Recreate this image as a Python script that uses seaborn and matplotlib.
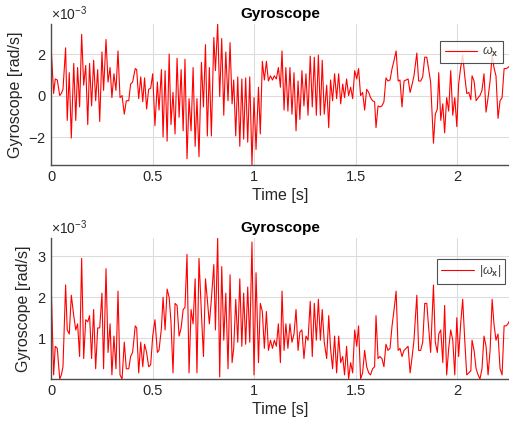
import numpy as np
import pandas as pd
import seaborn as sns
import matplotlib
matplotlib.use("Agg")
import matplotlib.pyplot as plt
from matplotlib.ticker import ScalarFormatter

# ---- data ----
time_s = [
    0.000, 0.013, 0.021, 0.031, 0.043, 0.051, 0.059, 0.072, 0.080, 0.090,
    0.100, 0.112, 0.122, 0.131, 0.141, 0.151, 0.161, 0.171, 0.181, 0.190,
    0.200, 0.210, 0.220, 0.230, 0.240, 0.251, 0.259, 0.271, 0.281, 0.291,
    0.300, 0.310, 0.320, 0.330, 0.340, 0.350, 0.361, 0.371, 0.383, 0.392,
    0.402, 0.415, 0.422, 0.432, 0.442, 0.452, 0.461, 0.471, 0.481, 0.491,
    0.501, 0.512, 0.524, 0.532, 0.544, 0.552, 0.562, 0.572, 0.582, 0.591,
    0.601, 0.611, 0.621, 0.631, 0.641, 0.651, 0.660, 0.670, 0.680, 0.690,
    0.700, 0.710, 0.719, 0.729, 0.741, 0.751, 0.761, 0.770, 0.780, 0.790,
    0.802, 0.810, 0.821, 0.831, 0.841, 0.851, 0.861, 0.872, 0.882, 0.892,
    0.900, 0.910, 0.920, 0.930, 0.940, 0.949, 0.959, 0.969, 0.979, 0.990,
    1.000, 1.010, 1.022, 1.031, 1.041, 1.051, 1.061, 1.071, 1.081, 1.091,
    1.100, 1.110, 1.120, 1.130, 1.138, 1.148, 1.157, 1.167, 1.177, 1.187,
    1.197, 1.207, 1.217, 1.226, 1.236, 1.246, 1.256, 1.266, 1.277, 1.287,
    1.297, 1.307, 1.317, 1.327, 1.336, 1.346, 1.358, 1.368, 1.377, 1.387,
    1.397, 1.407, 1.417, 1.427, 1.437, 1.446, 1.456, 1.466, 1.476, 1.486,
    1.496, 1.506, 1.515, 1.525, 1.535, 1.545, 1.555, 1.565, 1.574, 1.584,
    1.594, 1.601, 1.611, 1.620, 1.630, 1.640, 1.650, 1.660, 1.670, 1.680,
    1.690, 1.700, 1.710, 1.719, 1.729, 1.739, 1.749, 1.759, 1.769, 1.779,
    1.788, 1.802, 1.811, 1.821, 1.831, 1.841, 1.851, 1.861, 1.870, 1.884,
    1.893, 1.903, 1.910, 1.920, 1.930, 1.939, 1.949, 1.959, 1.969, 1.979,
    1.989, 1.999, 2.008, 2.018, 2.028, 2.038, 2.048, 2.058, 2.068, 2.074,
    2.084, 2.094, 2.104, 2.113, 2.123, 2.133, 2.143, 2.153, 2.163, 2.173,
    2.182, 2.192, 2.202, 2.212, 2.222, 2.232, 2.242, 2.251, 2.261,
]

# angular rate omega_x in units of 1e-3 rad/s
omega_x_milli = [
    2.45, 0.10, 0.80, 0.75, 0.00, 0.10, 0.30, 2.30, -1.20, 1.10,
    -2.05, 1.55, -1.20, 1.35, -0.55, 2.95, 0.50, 1.45, -1.40, 1.55,
    -0.50, 1.70, -0.25, 1.25, -1.25, 2.10, 0.25, 2.70, 0.65, 1.35,
    -0.10, 1.05, 0.25, 2.15, -0.10, 0.00, -0.90, -0.25, -0.25, 0.55,
    0.65, 1.30, 1.25, -0.15, 0.90, -0.30, 0.85, -0.65, 0.30, 0.35,
    1.05, -1.45, 0.65, -0.70, 1.25, -2.00, 1.20, -2.20, 2.00, -1.40,
    0.15, -1.85, 1.80, -1.05, 1.25, -1.70, 1.75, -3.05, -0.15, -1.70,
    1.35, -2.45, -0.15, -2.95, 1.60, -0.55, 2.45, -1.95, 1.35, -1.95,
    2.80, 1.20, 3.45, -0.05, 2.75, -0.95, 2.10, -0.25, 2.55, -0.40,
    0.75, -1.95, 0.90, -2.45, 0.80, -2.10, 0.85, -2.25, 0.90, -3.35,
    -0.10, -2.60, 0.40, -1.85, 1.65, 0.75, 1.65, 0.70, 0.95, 0.75,
    0.95, 0.80, 1.35, 0.40, 2.15, -0.70, 1.35, -0.75, 1.35, -0.90,
    1.10, -1.70, 0.70, -1.15, 1.20, -0.50, 1.05, -0.95, 1.90, -0.55,
    1.85, -0.95, 1.95, -0.95, 1.70, -0.90, 0.50, -1.55, 0.75, -0.25,
    1.05, -0.15, 1.05, -0.40, 0.55, -0.10, 0.80, 0.00, 0.40, -0.15,
    1.20, 0.80, 1.30, 0.00, 0.15, -0.70, 0.30, 0.15, -0.10, -0.25,
    -0.30, -1.55, -0.50, -0.55, -0.50, -0.30, 0.85, 0.70, 0.75, 1.30,
    1.70, 2.15, 0.70, 0.75, -0.55, 0.70, 0.75, 0.80, 0.15, 0.55,
    0.95, 2.05, 0.70, 0.70, 0.90, 1.85, 1.85, 1.20, 0.65, -2.30,
    -0.90, -0.65, 1.10, -1.20, -0.40, -1.80, -0.10, -0.75, 1.20, -0.95,
    -0.10, -1.50, 0.55, 1.35, 1.95, 0.95, 0.10, 0.15, -0.20, 0.95,
    0.70, -0.25, -0.10, 0.00, 0.25, 1.05, -0.80, -0.10, 0.70, 1.95,
    1.35, 0.95, -1.10, -0.25, -0.10, 1.30, 1.30, 1.35, 1.45,
]

x_ticks = [0, 0.5, 1, 1.5, 2]
x_tick_labels = ["0", "0.5", "1", "1.5", "2"]
top_y_ticks_milli = [-2, 0, 2]
bottom_y_ticks_milli = [1, 2, 3]
scale = 1e-3

df = pd.DataFrame({
    "t": time_s,
    "w": np.array(omega_x_milli) * scale,
})
df["absw"] = df["w"].abs()

# ---- style ----
sns.set_theme(style="white")
plt.rcParams["font.family"] = ["Liberation Sans", "DejaVu Sans"]
plt.rcParams["mathtext.fontset"] = "custom"
plt.rcParams["mathtext.rm"] = "Liberation Sans"
plt.rcParams["mathtext.it"] = "Liberation Sans:italic"
plt.rcParams["mathtext.bf"] = "Liberation Sans:bold"

txt = "#262626"
axc = "#4d4d4d"
grid_c = "#dcdcdc"

fig = plt.figure(figsize=(5.1, 4.3), dpi=100)
ax1 = fig.add_axes([51 / 510, 1 - 165 / 430, 1 - 51 / 510, 141 / 430])
ax2 = fig.add_axes([51 / 510, 1 - 379 / 430, 1 - 51 / 510, 141 / 430])

specs = [
    (ax1, "w", r"$\omega_{\mathbf{x}}$", top_y_ticks_milli, (0.99, 0.9)),
    (ax2, "absw", r"$|\omega_{\mathbf{x}}|$", bottom_y_ticks_milli, (0.995, 0.87)),
]

for ax, col, lab, yt, anchor in specs:
    sns.lineplot(data=df, x="t", y=col, ax=ax, color="#ff0000",
                 linewidth=0.8, label=lab, estimator=None, sort=False)
    ax.set_xlim(0, max(time_s))
    ax.set_ylim(df[col].min(), df[col].max())
    ax.set_xticks(x_ticks)
    ax.set_xticklabels(x_tick_labels)
    ax.set_yticks(np.array(yt) * scale)
    fmt = ScalarFormatter(useMathText=True)
    fmt.set_powerlimits((-3, -3))
    ax.yaxis.set_major_formatter(fmt)
    ax.yaxis.get_offset_text().set_fontsize(10)
    ax.yaxis.get_offset_text().set_color("#7f7f7f")
    ax.grid(True, color=grid_c, linewidth=0.8)
    ax.set_axisbelow(True)
    for s in ["top", "right"]:
        ax.spines[s].set_visible(False)
    for s in ["left", "bottom"]:
        ax.spines[s].set_color(axc)
        ax.spines[s].set_linewidth(1.0)
    ax.tick_params(axis="both", direction="in", length=3, width=0.8,
                   colors=axc, labelcolor=txt, labelsize=10.5)
    ax.set_xlabel("Time [s]", fontsize=11.5, color=txt, labelpad=3)
    ax.set_ylabel("Gyroscope [rad/s]", fontsize=11.5, color=txt, labelpad=4)
    ax.set_title("Gyroscope", fontsize=11, fontweight="bold", color="black", pad=4)
    leg = ax.legend(loc="upper right", bbox_to_anchor=anchor,
                    fontsize=9, frameon=True, fancybox=False,
                    handlelength=2.6, borderpad=0.35, handletextpad=0.4,
                    borderaxespad=0.2)
    for t in leg.get_texts():
        t.set_color("#404040")
    leg.get_frame().set_edgecolor("#262626")
    leg.get_frame().set_linewidth(0.8)

fig.savefig("out.png", dpi=100)
